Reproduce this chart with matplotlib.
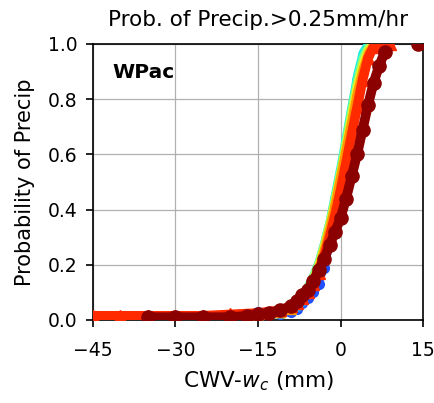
import matplotlib
matplotlib.use("Agg")
import matplotlib.pyplot as plt
import numpy as np

# CWV - w_c bins (mm) and probability of precip, one set per series
x_blue = [-20, -17, -15, -13, -11, -9, -8, -7, -6, -5, -4, -3, -2, -1, 0, 1, 2, 3, 4, 5]
p_blue = [0.01, 0.02, 0.03, 0.02, 0.02, 0.03, 0.04, 0.06, 0.08, 0.10, 0.13, 0.19, 0.27, 0.36, 0.46, 0.57, 0.68, 0.80, 0.91, 0.99]

x_lblue = [-25, -20, -15, -11, -9, -8, -7, -6, -5, -4, -3, -2, -1, 0, 1, 2, 3, 4, 5]
p_lblue = [0.01, 0.01, 0.02, 0.03, 0.04, 0.05, 0.07, 0.10, 0.14, 0.19, 0.25, 0.33, 0.42, 0.52, 0.63, 0.74, 0.86, 0.96, 1.0]

x_cyan = [-25, -20, -15, -11, -9, -8, -7, -6, -5, -4, -3, -2, -1, 0, 1, 2, 3, 4, 5]
p_cyan = [0.01, 0.01, 0.02, 0.03, 0.05, 0.07, 0.09, 0.12, 0.16, 0.21, 0.28, 0.36, 0.46, 0.56, 0.67, 0.78, 0.89, 0.97, 1.0]

x_green = [-25, -20, -15, -11, -9, -8, -7, -6, -5, -4, -3, -2, -1, 0, 1, 2, 3, 4, 5, 6]
p_green = [0.01, 0.01, 0.02, 0.03, 0.05, 0.07, 0.09, 0.12, 0.16, 0.21, 0.28, 0.36, 0.45, 0.55, 0.66, 0.77, 0.87, 0.95, 0.99, 1.0]

x_yellow = [-30, -25, -20, -15, -11, -9, -8, -7, -6, -5, -4, -3, -2, -1, 0, 1, 2, 3, 4, 5, 6, 7]
p_yellow = [0.01, 0.01, 0.015, 0.02, 0.03, 0.05, 0.06, 0.08, 0.11, 0.15, 0.20, 0.27, 0.35, 0.44, 0.54, 0.64, 0.75, 0.85, 0.93, 0.98, 1.0, 1.0]

x_orange = [-30, -25, -20, -15, -11, -9, -8, -7, -6, -5, -4, -3, -2, -1, 0, 1, 2, 3, 4, 5, 6, 7, 8]
p_orange = [0.01, 0.01, 0.015, 0.02, 0.03, 0.04, 0.06, 0.08, 0.11, 0.14, 0.19, 0.26, 0.34, 0.43, 0.53, 0.63, 0.73, 0.83, 0.91, 0.97, 1.0, 1.0, 1.0]

x_red = [-45, -40, -35, -30, -25, -20, -15, -11, -9, -8, -7, -6, -5, -4, -3, -2, -1, 0, 1, 2, 3, 4, 5, 6, 7, 8, 9]
p_red = [0.015, 0.015, 0.015, 0.015, 0.015, 0.02, 0.025, 0.035, 0.05, 0.06, 0.08, 0.10, 0.13, 0.17, 0.23, 0.30, 0.38, 0.47, 0.57, 0.67, 0.77, 0.87, 0.95, 0.99, 1.0, 1.0, 1.0]

x_dred = [-35, -30, -25, -20, -17, -15, -13, -11, -9, -8, -7, -6, -5, -4, -3, -2, -1, 0, 1, 2, 3, 4, 5, 6, 7, 8, 14]
p_dred = [0.01, 0.01, 0.01, 0.01, 0.015, 0.02, 0.025, 0.035, 0.05, 0.07, 0.09, 0.11, 0.14, 0.18, 0.22, 0.27, 0.32, 0.37, 0.44, 0.52, 0.60, 0.69, 0.78, 0.86, 0.92, 0.97, 1.0]

series = [
    (x_blue, p_blue, "#1f4fff", "o"),
    (x_lblue, p_lblue, "#1fa0ff", "o"),
    (x_cyan, p_cyan, "#20f0e0", "^"),
    (x_green, p_green, "#7fff7f", "^"),
    (x_yellow, p_yellow, "#f0f020", "^"),
    (x_orange, p_orange, "#ff9a00", "^"),
    (x_red, p_red, "#ff2a00", "^"),
    (x_dred, p_dred, "#8b0000", "o"),
]

fig = plt.figure(figsize=(4.34, 4.03), dpi=100)
ax = fig.add_axes([0.214, 0.206, 0.761, 0.685])

for xs, ps, c, m in series:
    big = c == "#8b0000"
    red = c == "#ff2a00"
    # connect only neighbouring bins (no line across gaps)
    xa, pa = np.array(xs, float), np.array(ps, float)
    seg = np.cumsum(np.r_[False, np.diff(xa) > 5.5])
    lw = 7 if (big or red) else 5.5
    for k in np.unique(seg):
        sel = seg == k
        ax.plot(xa[sel], pa[sel], color=c, lw=lw, solid_capstyle="round",
                solid_joinstyle="round", zorder=3)
    ax.plot(xs, ps, ls="none", marker=m, ms=9.5 if big else (8 if red else 7),
            color=c, mec=c, zorder=3)

ax.set_xlim(-45, 15)
ax.set_ylim(0, 1)
ax.set_xticks([-45, -30, -15, 0, 15])
ax.set_yticks(np.arange(0, 1.01, 0.2))
ax.grid(True, color="#b0b0b0", lw=0.9)
ax.set_axisbelow(True)
ax.tick_params(labelsize=13.5, length=5, width=1.2)
ax.tick_params(axis="x", pad=10)
ax.tick_params(axis="y", pad=6)
for s in ax.spines.values():
    s.set_linewidth(1.2)

ax.set_title("Prob. of Precip.>0.25mm/hr", fontsize=15.5, pad=13)
ax.set_xlabel("CWV-$w_c$ (mm)", fontsize=15.5, labelpad=7)
ax.set_ylabel("Probability of Precip", fontsize=15, labelpad=9)
ax.text(0.06, 0.93, "WPac", transform=ax.transAxes, fontsize=14.5, fontweight="bold",
        va="top", ha="left")

fig.savefig("out.png", dpi=100)
